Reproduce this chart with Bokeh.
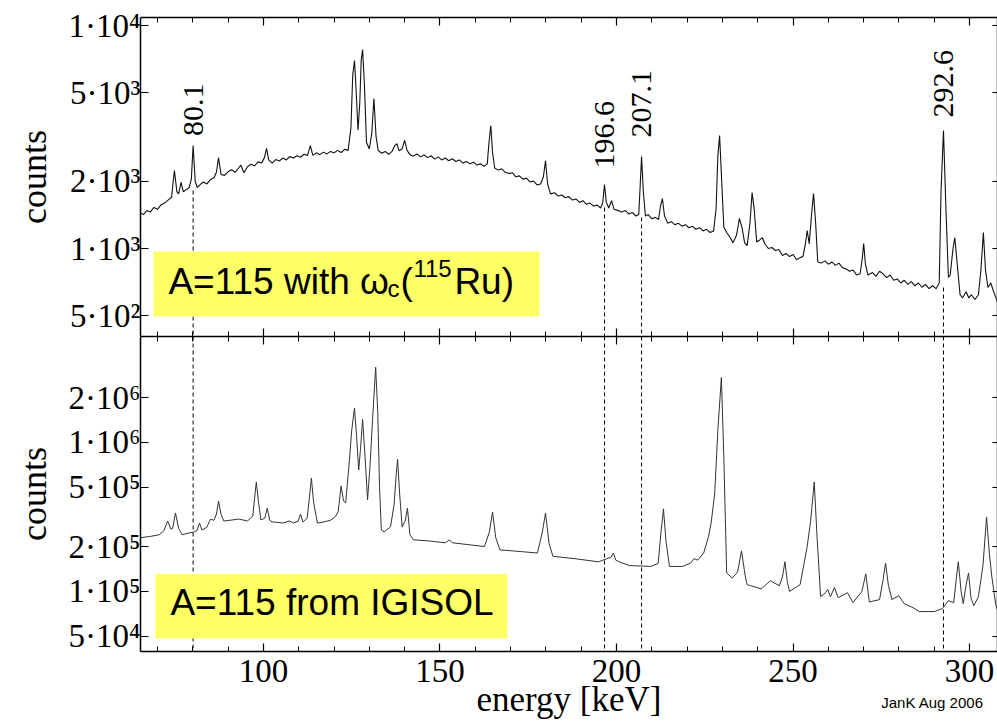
import math
from bokeh.plotting import figure
from bokeh.models import (Range1d, FixedTicker, LinearAxis, LogAxis, Label,
                          BoxAnnotation, Span)
from bokeh.layouts import column
from bokeh.embed import file_html
from bokeh.resources import INLINE
from bokeh.core.properties import value

# ---------------- data ----------------
# upper spectrum: A=115 with omega_c(115Ru)  (energy keV, counts)
top_spectrum = [
    (65.0, 1450), (66.0, 1420), (67.0, 1480), (68.0, 1460), (69.0, 1530), (70.0, 1500),
    (71.0, 1570), (72.0, 1600), (73.0, 1650), (74.0, 1700), (74.8, 2240), (75.5, 1800),
    (76.0, 1760), (76.7, 1980), (77.3, 1800), (78.0, 1830), (79.0, 1880), (79.6, 2050),
    (80.1, 2900), (80.7, 2000), (81.3, 1880), (82.0, 1930), (83.0, 1990), (84.0, 1950),
    (85.0, 2040), (86.0, 2080), (86.7, 2200), (87.3, 2560), (88.0, 2150), (89.0, 2130),
    (90.0, 2210), (91.0, 2260), (92.0, 2200), (93.0, 2300), (93.6, 2370), (94.5, 2190),
    (95.5, 2330), (96.5, 2390), (97.5, 2350), (98.5, 2450), (99.5, 2420), (100.3, 2560),
    (100.9, 2815), (101.5, 2500), (102.5, 2420), (103.5, 2510), (104.5, 2470), (105.5, 2550),
    (106.5, 2500), (107.5, 2590), (108.5, 2550), (109.5, 2610), (110.5, 2570), (111.5, 2650),
    (112.5, 2620), (113.3, 2900), (114.0, 2620), (115.0, 2690), (116.0, 2640), (117.0, 2710),
    (118.0, 2660), (119.0, 2730), (120.0, 2690), (121.0, 2760), (122.0, 2700), (123.0, 2790),
    (124.0, 2760), (124.8, 3500), (125.3, 6000), (125.8, 6990), (126.3, 5000), (126.8, 3400),
    (127.3, 4500), (127.7, 7000), (128.1, 7830), (128.6, 5500), (129.2, 3000), (130.0, 2800),
    (130.7, 3300), (131.3, 4720), (131.9, 3200), (132.5, 2760), (133.5, 2680), (134.5, 2730),
    (135.5, 2650), (136.5, 2740), (137.2, 2900), (137.8, 2960), (138.4, 2750), (139.3, 2800),
    (140.0, 3060), (140.7, 2760), (141.5, 2640), (142.5, 2600), (143.5, 2660), (144.5, 2580),
    (145.5, 2630), (146.5, 2560), (147.5, 2610), (148.5, 2520), (149.5, 2580), (150.5, 2500),
    (151.5, 2550), (152.5, 2480), (153.5, 2530), (154.5, 2460), (155.5, 2500), (156.5, 2420),
    (157.5, 2460), (158.5, 2400), (159.5, 2440), (160.5, 2370), (161.5, 2400), (162.5, 2340),
    (163.4, 2400), (163.9, 3000), (164.4, 3570), (164.9, 2700), (165.5, 2300), (166.5, 2250),
    (167.5, 2280), (168.5, 2200), (169.5, 2170), (170.5, 2190), (171.5, 2100), (172.5, 2120),
    (173.5, 2050), (174.5, 2070), (175.5, 1990), (176.5, 2010), (177.5, 1930), (178.5, 1950),
    (179.3, 2100), (179.9, 2480), (180.5, 1950), (181.3, 1760), (182.5, 1780), (183.5, 1720),
    (184.5, 1740), (185.5, 1690), (186.5, 1710), (187.5, 1650), (188.5, 1670), (189.5, 1610),
    (190.5, 1640), (191.5, 1580), (192.5, 1600), (193.5, 1550), (194.5, 1570), (195.5, 1520),
    (196.1, 1600), (196.6, 1940), (197.1, 1620), (197.8, 1520), (198.6, 1640), (199.3, 1500),
    (200.5, 1480), (201.5, 1460), (202.5, 1480), (203.5, 1430), (204.5, 1450), (205.5, 1400),
    (206.3, 1420), (206.7, 1900), (207.1, 2590), (207.6, 1800), (208.2, 1400), (209.0, 1420),
    (210.0, 1360), (211.0, 1380), (211.9, 1350), (212.5, 1560), (213.0, 1676), (213.6, 1400),
    (214.5, 1300), (215.5, 1320), (216.5, 1280), (217.5, 1300), (218.5, 1260), (219.5, 1280),
    (220.5, 1240), (221.5, 1260), (222.5, 1220), (223.5, 1240), (224.5, 1200), (225.5, 1220),
    (226.5, 1180), (227.5, 1200), (228.2, 1500), (228.7, 2600), (229.2, 3215), (229.8, 2000),
    (230.4, 1250), (231.2, 1180), (232.2, 1120), (233.0, 1060), (234.0, 1150), (234.8, 1364),
    (235.5, 1250), (236.3, 1060), (237.0, 1031), (237.8, 1300), (238.4, 1784), (239.0, 1500),
    (239.7, 1070), (240.5, 1090), (241.3, 1120), (242.0, 1050), (243.0, 1000), (244.0, 1010),
    (245.0, 980), (246.0, 990), (247.0, 930), (248.0, 950), (249.0, 920), (250.0, 940),
    (251.0, 890), (252.0, 910), (252.8, 920), (253.5, 1050), (254.0, 1205), (254.6, 1050),
    (255.2, 1400), (255.8, 1766), (256.4, 1300), (257.0, 870), (258.0, 860), (259.0, 880),
    (260.0, 850), (261.0, 870), (262.0, 840), (263.0, 860), (264.0, 820), (265.0, 810),
    (266.0, 790), (267.0, 800), (268.0, 760), (269.0, 770), (269.6, 900), (270.0, 1053),
    (270.5, 850), (271.2, 760), (272.5, 780), (273.5, 750), (274.5, 790), (275.5, 770),
    (276.5, 740), (277.5, 760), (278.5, 720), (279.5, 730), (280.5, 700), (281.5, 720),
    (282.5, 690), (283.5, 710), (284.5, 680), (285.5, 700), (286.5, 670), (287.5, 690),
    (288.5, 660), (289.5, 680), (290.5, 660), (291.4, 700), (291.9, 1800), (292.6, 3390),
    (293.3, 1500), (294.0, 741), (294.5, 760), (295.3, 1000), (295.8, 1121), (296.5, 850),
    (297.3, 620), (298.0, 600), (299.0, 640), (299.8, 600), (300.5, 620), (301.5, 590),
    (302.5, 620), (303.2, 800), (303.9, 1180), (304.5, 800), (305.2, 668), (306.0, 700),
    (306.8, 640), (307.5, 600), (308.0, 566),
]

# lower spectrum: A=115 from IGISOL  (energy keV, counts)
bottom_spectrum = [
    (65.0, 229000), (68.0, 234000), (70.5, 240000), (71.8, 255000), (72.9, 297000),
    (73.8, 262000), (74.3, 265000), (75.1, 336000), (76.0, 265000), (77.0, 240000),
    (79.0, 247000), (80.5, 251000), (81.2, 256000), (81.9, 288000), (82.6, 258000),
    (84.0, 270000), (85.0, 305000), (86.0, 300000), (86.7, 330000), (87.3, 404000),
    (88.0, 330000), (88.8, 297000), (90.5, 300000), (93.0, 306000), (95.5, 297000),
    (97.0, 320000), (97.5, 420000), (98.0, 542000), (98.6, 400000), (99.3, 302000),
    (100.4, 310000), (101.1, 362000), (101.8, 300000), (102.5, 293000), (105.5, 288000),
    (107.4, 297000), (108.5, 288000), (109.8, 295000), (110.5, 330000), (111.2, 292000),
    (112.4, 310000), (113.0, 420000), (113.6, 576000), (114.2, 400000), (115.3, 288000),
    (117.0, 292000), (119.0, 300000), (120.5, 320000), (121.2, 345000), (122.0, 510000),
    (122.7, 405000), (123.3, 393000), (124.3, 727000), (125.0, 1200000), (125.8, 1700000),
    (126.4, 1100000), (127.0, 653000), (127.5, 900000), (128.1, 1430000), (128.8, 800000),
    (129.5, 411000), (130.2, 700000), (130.9, 1400000), (131.8, 3200000), (132.4, 1570000),
    (132.9, 500000), (133.4, 258000), (134.2, 251000), (136.0, 271000), (137.0, 380000),
    (137.6, 600000), (138.0, 773000), (138.6, 450000), (139.3, 270000), (140.2, 300000),
    (140.8, 362000), (141.5, 240000), (142.5, 222000), (147.0, 218000), (151.5, 212000),
    (152.7, 222000), (153.5, 212000), (158.0, 206000), (162.6, 200000), (164.0, 250000),
    (164.9, 341000), (165.8, 230000), (167.0, 190000), (173.0, 185000), (177.6, 181000),
    (179.0, 250000), (179.9, 336000), (180.9, 210000), (182.0, 172000), (188.0, 166000),
    (194.9, 158000), (198.5, 170000), (199.1, 181000), (199.8, 162000), (201.0, 157000),
    (203.7, 149000), (207.0, 148000), (209.7, 147000), (211.8, 154000), (212.6, 250000),
    (213.3, 358000), (214.0, 220000), (215.0, 147000), (218.7, 147000), (221.0, 155000),
    (222.0, 166000), (223.0, 162000), (224.7, 181000), (226.0, 230000), (226.8, 288000),
    (227.8, 450000), (228.7, 1200000), (229.7, 2730000), (230.4, 797000), (231.2, 133000),
    (232.8, 123000), (234.3, 135000), (235.4, 187000), (236.5, 125000), (237.0, 111000),
    (241.0, 104000), (243.6, 118000), (246.1, 109000), (247.0, 125000), (247.7, 158000),
    (248.4, 115000), (249.0, 100000), (252.0, 111000), (254.0, 200000), (255.0, 300000),
    (256.0, 542000), (256.8, 232000), (257.8, 92100), (259.2, 98000), (259.8, 103000),
    (260.6, 92100), (261.7, 106000), (262.8, 90700), (265.4, 98000), (267.0, 84000),
    (269.5, 100000), (270.6, 131000), (271.6, 85000), (274.5, 88000), (275.5, 120000),
    (276.2, 155000), (277.0, 110000), (278.0, 88000), (279.9, 93600), (281.5, 82700),
    (284.0, 77800), (285.7, 73200), (290.0, 73200), (292.3, 76600), (294.0, 86700),
    (295.5, 84000), (296.2, 120000), (296.8, 158000), (297.6, 100000), (298.2, 82700),
    (299.0, 110000), (299.7, 133000), (300.4, 90000), (301.2, 80200), (302.5, 92100),
    (303.8, 150000), (304.8, 316000), (305.6, 180000), (306.3, 125000), (307.4, 81500),
    (308.0, 73200),
]

# marked gamma lines (keV), their labels, and where the dashed marker starts in the upper panel
marked_lines = [80.1, 196.6, 207.1, 292.6]
marked_labels = ["80.1", "196.6", "207.1", "292.6"]
marker_start_top = [1822, 1528, 1378, 668]
label_base_top = [3200, 2286, 3153, 3877]

x_major = [100, 150, 200, 250, 300]
x_minor = [70, 80, 90, 110, 120, 130, 140, 160, 170, 180, 190, 210, 220, 230, 240,
           260, 270, 280, 290, 300]
top_ticks = [500, 1000, 2000, 5000, 10000]
top_tick_labels = ["5·10²", "1·10³", "2·10³", "5·10³", "1·10⁴"]
bottom_ticks = [50000, 100000, 200000, 500000, 1000000, 2000000]
bottom_tick_labels = ["5·10⁴", "1·10⁵", "2·10⁵", "5·10⁵", "1·10⁶", "2·10⁶"]
credit_position = [289.5]
credit_text = ["JanK Aug 2006"]

x_limits = (65.2, 307.9)
top_limits = (402.5, 10906)
bottom_limits = (39480, 5145000)

SERIF = "Liberation Serif"
SANS = "Liberation Sans"
YELLOW = "#FFFF66"


def style_axis(ax, ticks, minor, show_labels=False, labels=None, major_len=8, minor_len=5):
    ax.ticker = FixedTicker(ticks=ticks, minor_ticks=minor)
    ax.axis_line_color = "black"
    ax.axis_line_width = 1.5
    ax.major_tick_line_color = "black"
    ax.major_tick_line_width = 1.2
    ax.minor_tick_line_color = "black"
    ax.minor_tick_line_width = 1.0
    ax.major_tick_in = major_len
    ax.major_tick_out = 0
    ax.minor_tick_in = minor_len
    ax.minor_tick_out = 0
    ax.major_label_text_font = SERIF
    ax.major_label_text_color = "black"
    if show_labels:
        if labels:
            ax.major_label_overrides = {t: s for t, s in zip(ticks, labels)}
        ax.major_label_text_font_size = "33px"
        ax.major_label_standoff = 0
    else:
        ax.major_label_overrides = {t: "" for t in ticks}
        ax.major_label_text_font_size = "1px"
        ax.major_label_standoff = 0


def make_panel(height, y_limits, border_top, border_bottom, yticks, ylabels, show_x_labels):
    p = figure(width=997, height=height, x_range=Range1d(*x_limits),
               y_range=Range1d(*y_limits), y_axis_type="log",
               output_backend="svg", toolbar_location=None,
               min_border_left=140, min_border_right=0,
               min_border_top=border_top, min_border_bottom=border_bottom)
    p.grid.grid_line_color = None
    p.outline_line_color = None
    p.background_fill_color = "white"
    p.border_fill_color = "white"
    p.add_layout(LinearAxis(), "above")
    p.add_layout(LogAxis(), "right")
    style_axis(p.below[0], x_major, x_minor, show_x_labels)
    style_axis(p.above[0], x_major, x_minor, False)
    style_axis(p.left[0], yticks, [], True, ylabels)
    style_axis(p.right[0], yticks, [], False, None, 5, 0)
    ax = p.left[0]
    ax.axis_label = "counts"
    ax.axis_label_text_font = SERIF
    ax.axis_label_text_font_style = "normal"
    ax.axis_label_text_color = "black"
    ax.axis_label_text_font_size = "36px"
    ax.axis_label_standoff = 12
    return p


# ---------------- upper panel ----------------
top = make_panel(336, top_limits, 17, 0, top_ticks, top_tick_labels, False)
te = [e for e, c in top_spectrum]
tc = [c for e, c in top_spectrum]
top.line(te, tc, line_color="#111111", line_width=1.1)
top.segment(x0=marked_lines, y0=marker_start_top, x1=marked_lines,
            y1=[top_limits[0]] * len(marked_lines),
            line_color="black", line_width=1, line_dash="4 3")
top.text(x=marked_lines, y=label_base_top, text=marked_labels, angle=math.pi / 2,
         text_align="left", text_baseline="middle", text_color="black",
         text_font=value(SERIF), text_font_size="30px")
top.add_layout(BoxAnnotation(left=68.86, right=178.2, bottom=494.9, top=969.4,
                             fill_color=YELLOW, fill_alpha=1.0, line_color=None))
anchor_x, anchor_y = 73.1, 711
pieces = [("A=115 with ω", 0, 0, "37px"), ("c", 219, -7, "24px"), ("(", 232, 0, "37px"),
          ("115", 245, 13, "24px"), ("Ru)", 286, 0, "37px")]
for txt, dx, dy, fs in pieces:
    top.add_layout(Label(x=anchor_x, y=anchor_y, x_offset=dx, y_offset=dy, text=txt,
                         text_font=SANS, text_font_size=fs, text_color="black",
                         text_baseline="alphabetic", text_align="left"))

# ---------------- lower panel ----------------
bot = make_panel(385, bottom_limits, 0, 69, bottom_ticks, bottom_tick_labels, True)
bot.below[0].major_label_standoff = 8

# second axis below: carries the credit line and the energy axis title
credit_axis = LinearAxis()
bot.add_layout(credit_axis, "below")
credit_axis.ticker = FixedTicker(ticks=credit_position, minor_ticks=[])
credit_axis.major_label_overrides = {t: s for t, s in zip(credit_position, credit_text)}
credit_axis.axis_line_color = None
credit_axis.major_tick_line_color = None
credit_axis.minor_tick_line_color = None
credit_axis.major_tick_out = 0
credit_axis.major_tick_in = 0
credit_axis.major_label_standoff = 9
credit_axis.major_label_text_font = SANS
credit_axis.major_label_text_font_size = "15px"
credit_axis.major_label_text_color = "black"
credit_axis.axis_label = "energy [keV]"
credit_axis.axis_label_text_font = SERIF
credit_axis.axis_label_text_font_style = "normal"
credit_axis.axis_label_text_color = "black"
credit_axis.axis_label_text_font_size = "35px"
credit_axis.axis_label_standoff = -34

be = [e for e, c in bottom_spectrum]
bc = [c for e, c in bottom_spectrum]
bot.line(be, bc, line_color="#333333", line_width=1)
for e in marked_lines:
    bot.add_layout(Span(location=e, dimension="height", line_color="black",
                        line_width=1, line_dash="4 3"))
bot.add_layout(BoxAnnotation(left=69.4, right=169.1, bottom=48250, top=131400,
                             fill_color=YELLOW, fill_alpha=1.0, line_color=None))
bot.add_layout(Label(x=73.67, y=84000, text="A=115 from IGISOL", text_font=SANS,
                     text_font_size="37px", text_color="black",
                     text_baseline="alphabetic", text_align="left"))

layout = column(top, bot, spacing=0)
open("out.html", "w").write(file_html(layout, INLINE))
